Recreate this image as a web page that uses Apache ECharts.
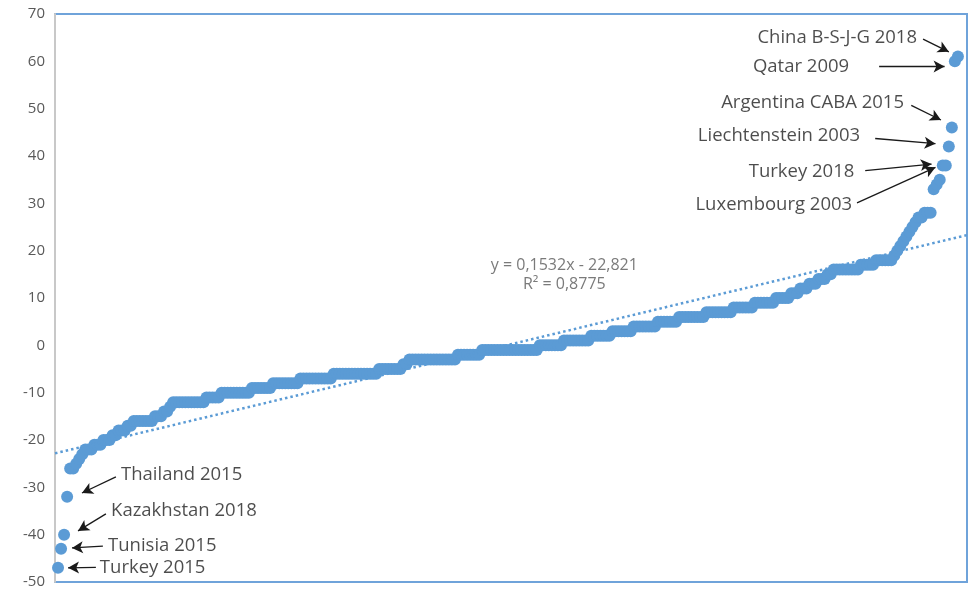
<!DOCTYPE html>
<html>
<head>
<meta charset="utf-8">
<script src="https://cdn.jsdelivr.net/npm/echarts@6/dist/echarts.min.js"></script>
<style>html,body{margin:0;padding:0;background:#fff}#c{width:971px;height:590px}</style>
</head>
<body>
<div id="c"></div>
<script>
// Sorted values (one per case)
var values = [
-47,-43,-40,-32,
-26,-26,-25,-24,-23,
-22,-22,-22,-21,-21,-21,-20,-20,-20,-19,-19,-18,-18,-18,-17,-17,
-16,-16,-16,-16,-16,-16,-16,-15,-15,-15,-14,-14,-13,
-12,-12,-12,-12,-12,-12,-12,-12,-12,-12,-12,
-11,-11,-11,-11,-11,
-10,-10,-10,-10,-10,-10,-10,-10,-10,-10,
-9,-9,-9,-9,-9,-9,-9,
-8,-8,-8,-8,-8,-8,-8,-8,-8,
-7,-7,-7,-7,-7,-7,-7,-7,-7,-7,-7,
-6,-6,-6,-6,-6,-6,-6,-6,-6,-6,-6,-6,-6,-6,-6,
-5,-5,-5,-5,-5,-5,-5,-5,
-4,-4,
-3,-3,-3,-3,-3,-3,-3,-3,-3,-3,-3,-3,-3,-3,-3,-3,
-2,-2,-2,-2,-2,-2,-2,-2,
-1,-1,-1,-1,-1,-1,-1,-1,-1,-1,-1,-1,-1,-1,-1,-1,-1,-1,-1,
0,0,0,0,0,0,0,0,
1,1,1,1,1,1,1,1,1,
2,2,2,2,2,2,2,
3,3,3,3,3,3,3,
4,4,4,4,4,4,4,4,
5,5,5,5,5,5,5,
6,6,6,6,6,6,6,6,6,
7,7,7,7,7,7,7,7,7,
8,8,8,8,8,8,8,
9,9,9,9,9,9,9,
10,10,10,10,10,
11,11,11,12,12,12,13,13,13,14,14,14,15,15,
16,16,16,16,16,16,16,16,16,
17,17,17,17,17,
18,18,18,18,18,18,
19,20,21,22,
23,24,25,26,27,27,
28,28,28,
33,34,35,
38,38,
42,46,60,61
];
var yTicks = [-50,-40,-30,-20,-10,0,10,20,30,40,50,60,70];
var trendSlope = 0.1532, trendIntercept = -22.821;
var trendText = 'y = 0,1532x - 22,821\nR\u00b2 = 0,8775';
var annotationNames = ['China B-S-J-G 2018','Qatar 2009','Argentina CABA 2015','Liechtenstein 2003','Turkey 2018','Luxembourg 2003','Thailand 2015','Kazakhstan 2018','Tunisia 2015','Turkey 2015'];

// placement of annotation texts and arrows (data units)
var annotPlace = [
  {text:[284.5,64.9], side:'left', from:[286.5,64.7], to:[295.0,62.0]},
  {text:[262.1,58.9], side:'left', from:[272.0,58.9], to:[293.6,58.9]},
  {text:[280.2,51.3], side:'left', from:[282.6,50.7], to:[292.4,47.6]},
  {text:[265.7,44.3], side:'left', from:[270.7,43.7], to:[290.6,42.6]},
  {text:[263.8,36.7], side:'left', from:[267.4,36.9], to:[289.3,38.3]},
  {text:[263.1,29.7], side:'left', from:[264.7,30.1], to:[290.6,37.6]},
  {text:[21.8,-27.3], side:'right', from:[20.1,-27.8], to:[8.9,-31.2]},
  {text:[18.5,-35.0], side:'right', from:[16.8,-35.6], to:[7.6,-39.2]},
  {text:[17.5,-42.4], side:'right', from:[15.8,-42.4], to:[5.6,-42.8]},
  {text:[14.8,-47.0], side:'right', from:[13.5,-46.9], to:[4.3,-47.0]}
];

var xMax = values.length + 3;
var pts = values.map(function(v,i){return [i+1, v];});
var trend = [[0, trendIntercept], [xMax, trendIntercept + trendSlope*xMax]];

var labelData = annotationNames.map(function(n,i){
  var p = annotPlace[i];
  return {value:p.text, name:n, label:{position:p.side, distance:0}};
});
labelData.push({value:[168.1,14.95], name:trendText, label:{position:'inside', color:'#595959', fontSize:16, lineHeight:19, align:'center'}});

var arrowData = annotPlace.map(function(p){
  return [{coord:p.from},{coord:p.to}];
});

var chart = echarts.init(document.getElementById('c'));
chart.setOption({
  animation:false,
  grid:{left:55, right:4, top:14, bottom:8, show:true, borderColor:'#6FA3DA', borderWidth:2, backgroundColor:'#fff'},
  xAxis:{type:'value', min:0, max:xMax, show:false},
  yAxis:{type:'value', min:-50, max:70, interval:10,
    axisLine:{show:true, lineStyle:{color:'#c8c8c8', width:2}},
    axisTick:{show:false}, splitLine:{show:false},
    axisLabel:{color:'#595959', fontSize:15, fontFamily:'Open Sans', margin:10,
      formatter:function(v){return yTicks.indexOf(v)>=0 ? String(v) : '';}}},
  series:[
    {type:'line', data:trend, symbol:'none', z:3,
     lineStyle:{color:'#5B9BD5', width:2.5, type:[2.5,3]}},
    {type:'scatter', data:pts, symbol:'circle', symbolSize:12, z:2,
     itemStyle:{color:'#5B9BD5', opacity:1}},
    {type:'scatter', data:labelData, symbolSize:0, z:5, silent:true,
     label:{show:true, formatter:'{b}', color:'#1f1f1f', fontSize:18.5, fontFamily:'Open Sans'},
     markLine:{silent:true, symbol:['none','arrow'], symbolSize:[9,11], precision:4,
       lineStyle:{color:'#1a1a1a', width:1.3, type:'solid'}, label:{show:false},
       emphasis:{disabled:true}, data:arrowData}}
  ]
});
</script>
</body>
</html>
